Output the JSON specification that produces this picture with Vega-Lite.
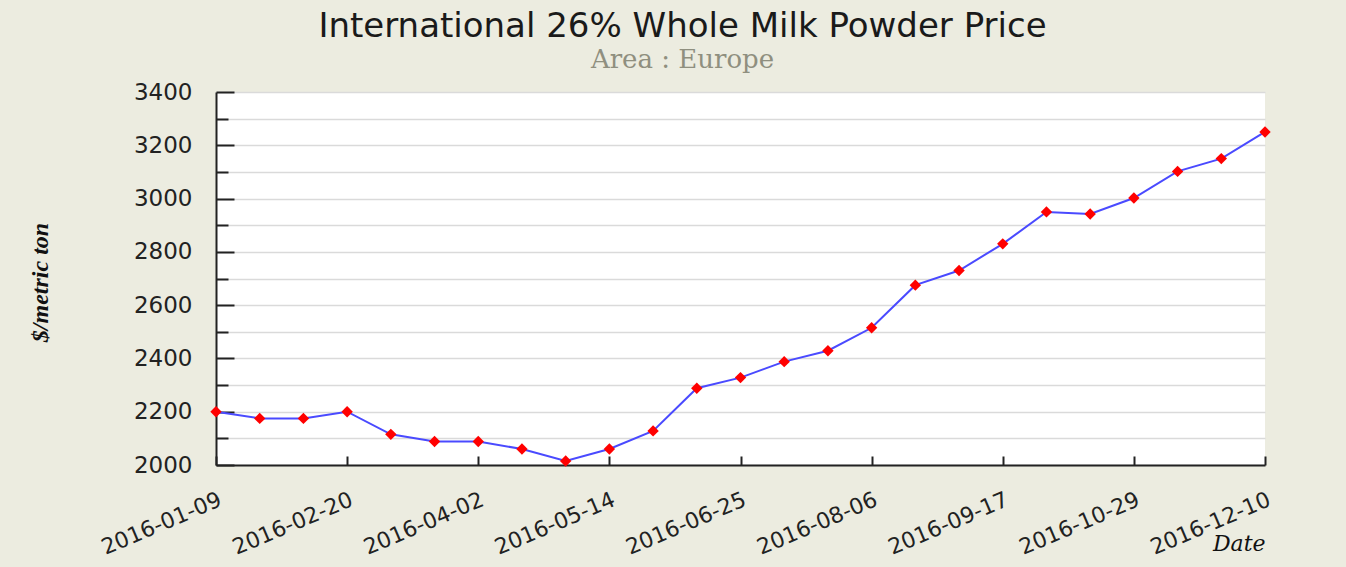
{
  "$schema": "https://vega.github.io/schema/vega-lite/v6.json",
  "width": 1049,
  "height": 373,
  "autosize": {"type": "none"},
  "padding": {"left": 216, "top": 92, "right": 81, "bottom": 102},
  "background": "#ECECE0",
  "view": {"stroke": null, "fill": "#FFFFFF"},
  "title": {
    "text": "International 26% Whole Milk Powder Price",
    "subtitle": "Area : Europe",
    "anchor": "middle",
    "frame": "group",
    "dx": -58,
    "offset": 8,
    "font": "DejaVu Sans",
    "fontSize": 34,
    "fontWeight": "normal",
    "color": "#1a1a1a",
    "subtitleFont": "DejaVu Serif",
    "subtitleFontSize": 26,
    "subtitleColor": "#8f8f7f",
    "subtitlePadding": 3
  },
  "data": {
    "values": [
      {"date": "2016-01-09", "price": 2200},
      {"date": "2016-01-23", "price": 2175},
      {"date": "2016-02-06", "price": 2175},
      {"date": "2016-02-20", "price": 2200},
      {"date": "2016-03-05", "price": 2115},
      {"date": "2016-03-19", "price": 2088},
      {"date": "2016-04-02", "price": 2088},
      {"date": "2016-04-16", "price": 2060},
      {"date": "2016-04-30", "price": 2015},
      {"date": "2016-05-14", "price": 2060},
      {"date": "2016-05-28", "price": 2128},
      {"date": "2016-06-11", "price": 2288},
      {"date": "2016-06-25", "price": 2328},
      {"date": "2016-07-09", "price": 2388},
      {"date": "2016-07-23", "price": 2429},
      {"date": "2016-08-06", "price": 2515},
      {"date": "2016-08-20", "price": 2675},
      {"date": "2016-09-03", "price": 2730},
      {"date": "2016-09-17", "price": 2830},
      {"date": "2016-10-01", "price": 2950},
      {"date": "2016-10-15", "price": 2942},
      {"date": "2016-10-29", "price": 3002},
      {"date": "2016-11-12", "price": 3102},
      {"date": "2016-11-26", "price": 3150},
      {"date": "2016-12-10", "price": 3250}
    ]
  },
  "encoding": {
    "x": {
      "field": "date",
      "type": "temporal",
      "scale": {"type": "utc", "domain": [{"year": 2016, "month": 1, "date": 9, "utc": true}, {"year": 2016, "month": 12, "date": 10, "utc": true}], "nice": false},
      "axis": {
        "values": [
          {"year": 2016, "month": 1, "date": 9, "utc": true},
          {"year": 2016, "month": 2, "date": 20, "utc": true},
          {"year": 2016, "month": 4, "date": 2, "utc": true},
          {"year": 2016, "month": 5, "date": 14, "utc": true},
          {"year": 2016, "month": 6, "date": 25, "utc": true},
          {"year": 2016, "month": 8, "date": 6, "utc": true},
          {"year": 2016, "month": 9, "date": 17, "utc": true},
          {"year": 2016, "month": 10, "date": 29, "utc": true},
          {"year": 2016, "month": 12, "date": 10, "utc": true}
        ],
        "labelExpr": "utcFormat(datum.value, '%Y-%m-%d')",
        "grid": false,
        "domainColor": "#222222",
        "domainWidth": 2,
        "tickColor": "#222222",
        "tickWidth": 2,
        "tickSize": -9,
        "labelAngle": -23,
        "labelAlign": "right",
        "labelBaseline": "top",
        "labelPadding": 33,
        "labelFont": "DejaVu Sans",
        "labelFontSize": 22,
        "labelColor": "#222222",
        "labelFlush": false,
        "labelOverlap": false,
        "title": "Date",
        "titleFont": "DejaVu Serif",
        "titleFontStyle": "italic",
        "titleFontWeight": "normal",
        "titleFontSize": 22,
        "titleColor": "#111111",
        "titleX": 1049,
        "titleY": 85,
        "titleAlign": "right",
        "titleBaseline": "alphabetic"
      }
    },
    "y": {
      "field": "price",
      "type": "quantitative",
      "scale": {"domain": [2000, 3400], "nice": false, "zero": false},
      "axis": {
        "values": [2000, 2100, 2200, 2300, 2400, 2500, 2600, 2700, 2800, 2900, 3000, 3100, 3200, 3300, 3400],
        "labelExpr": "datum.value % 200 == 0 ? datum.label : ''",
        "format": "d",
        "grid": true,
        "gridColor": "#DADADA",
        "gridWidth": 1.5,
        "domainColor": "#222222",
        "domainWidth": 2,
        "tickColor": "#222222",
        "tickWidth": 2,
        "tickSize": {"condition": {"test": "datum.value % 200 == 0", "value": -18}, "value": -12},
        "labelPadding": 42,
        "labelFont": "DejaVu Sans",
        "labelFontSize": 23,
        "labelColor": "#222222",
        "labelFlush": false,
        "labelOverlap": false,
        "title": "$/metric ton",
        "titleFont": "Liberation Serif",
        "titleFontStyle": "italic",
        "titleFontWeight": "bold",
        "titleFontSize": 24,
        "titleColor": "#111111",
        "titleX": -176,
        "titleY": 190,
        "titleAngle": -90,
        "titleAlign": "center",
        "titleBaseline": "middle"
      }
    }
  },
  "layer": [
    {"mark": {"type": "line", "color": "#4a4aff", "strokeWidth": 2, "clip": false}},
    {"mark": {"type": "point", "shape": "diamond", "filled": true, "color": "#ff0000", "opacity": 1, "size": 130, "clip": false}}
  ]
}
